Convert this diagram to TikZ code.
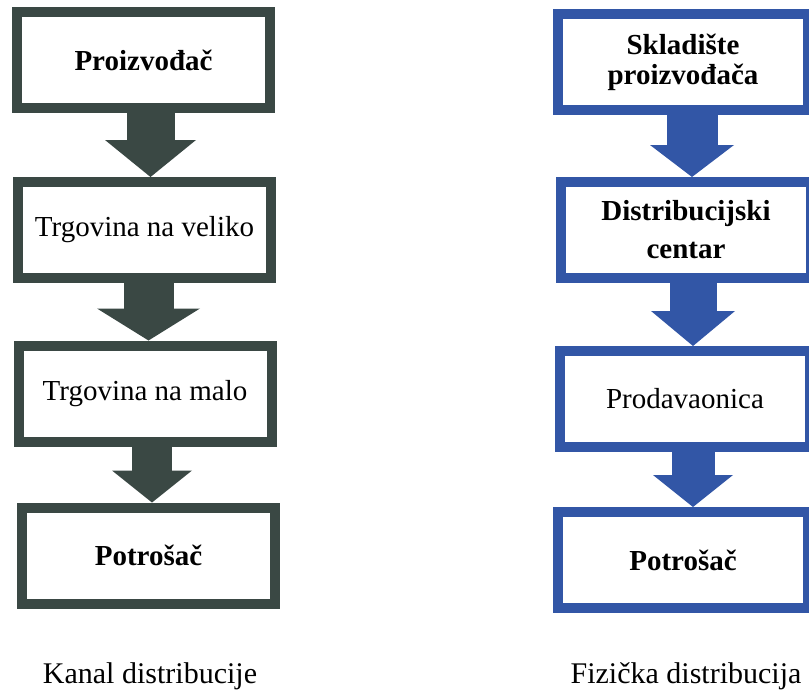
\documentclass[tikz,border=0pt]{standalone}
\usepackage{fontspec}
\setmainfont{Liberation Serif}
\usetikzlibrary{arrows.meta}

\begin{document}
\begin{tikzpicture}[x=1pt,y=-1pt,
  box/.style={draw=#1,line width=10pt,fill=white,minimum height=96pt,inner sep=0pt,align=center,font=\fontsize{29}{33}\selectfont},
  leftbox/.style={box=cdark,minimum width=253pt},
  rightbox/.style={box=cblue,minimum width=250pt},
  flow/.style n args={4}{draw=#1,line width=#2,-{Triangle[width=#3,length=#4,line width=0pt]}},
  caption/.style={font=\fontsize{30}{34}\selectfont}]
\definecolor{cdark}{RGB}{58,72,68}      %gray-green
\definecolor{cblue}{RGB}{50,86,166}     %blue
\useasboundingbox (0,0) rectangle (809,691);
% Kanal distribucije
\node[leftbox] (prod) at (143.5,60) {\bfseries Proizvođač};
\node[leftbox] (veliko) at (144.5,230) {Trgovina na veliko};
\node[leftbox] (malo) at (145,393.5) {Trgovina na malo};
\node[leftbox] (potr) at (148.5,555.5) {\bfseries Potrošač};
\draw[flow={cdark}{48pt}{91pt}{37pt}] ([xshift=7pt]prod.south) -- ([xshift=7pt]prod.south |- veliko.north);
\draw[flow={cdark}{50pt}{103pt}{32pt}] ([xshift=4pt]veliko.south) -- ([xshift=4pt]veliko.south |- malo.north);
\draw[flow={cdark}{40pt}{80pt}{32pt}] ([xshift=7pt]malo.south) -- ([xshift=7pt]malo.south |- potr.north);
% Fizicka distribucija
\node[rightbox] (sklad) at (683,62) {\bfseries Skladište\\[-3pt]\bfseries proizvođača};
\node[rightbox] (dcentar) at (686,230) {\bfseries Distribucijski\\[5pt]\bfseries centar};
\node[rightbox] (prodav) at (685,399) {Prodavaonica};
\node[rightbox] (potrf) at (683,560) {\bfseries Potrošač};
\draw[flow={cblue}{51pt}{84pt}{32pt}] ([xshift=9pt]sklad.south) -- ([xshift=9pt]sklad.south |- dcentar.north);
\draw[flow={cblue}{47pt}{84pt}{35pt}] ([xshift=7pt]dcentar.south) -- ([xshift=7pt]dcentar.south |- prodav.north);
\draw[flow={cblue}{43pt}{80pt}{32pt}] ([xshift=8pt]prodav.south) -- ([xshift=8pt]prodav.south |- potrf.north);
\node[caption] (kanal) at (150,676) {Kanal distribucije};
\node[caption] (fizicka) at (686,676) {Fizička distribucija};
\end{tikzpicture}
\end{document}
